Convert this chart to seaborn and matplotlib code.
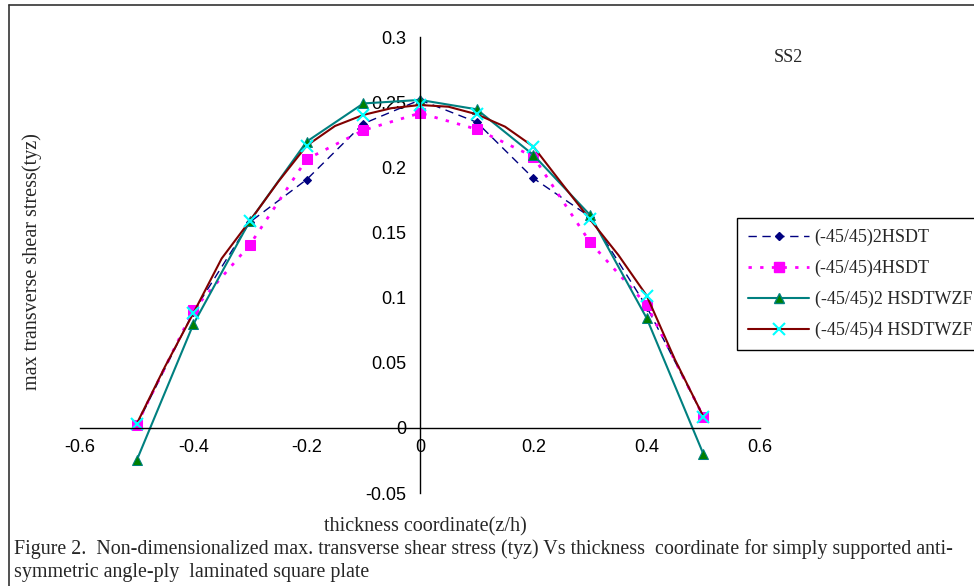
import matplotlib
matplotlib.use("Agg")
import matplotlib.pyplot as plt
from matplotlib.lines import Line2D
import seaborn as sns
import pandas as pd

# ---- data ----
z = [-0.5, -0.4, -0.3, -0.2, -0.1, 0.0, 0.1, 0.2, 0.3, 0.4, 0.5]
hsdt2 = [0.002, 0.089, 0.158, 0.1906, 0.2335, 0.2517, 0.2346, 0.1916, 0.162, 0.093, 0.0087]
hsdt4 = [0.0023, 0.0905, 0.1407, 0.2062, 0.2284, 0.2416, 0.2292, 0.2082, 0.1425, 0.0944, 0.0087]
wzf2 = [-0.0250, 0.0795, 0.159, 0.2197, 0.249, 0.2517, 0.2445, 0.2095, 0.1634, 0.0842, -0.0200]
z_dense = [-0.5, -0.45, -0.4, -0.35, -0.3, -0.25, -0.2, -0.15, -0.1, -0.05, 0.0,
           0.05, 0.1, 0.15, 0.2, 0.25, 0.3, 0.35, 0.4, 0.45, 0.5]
wzf4 = [0.003, 0.047, 0.088, 0.130, 0.159, 0.189, 0.2166, 0.2317, 0.2402, 0.2454, 0.2478,
        0.2465, 0.2407, 0.2312, 0.2159, 0.1877, 0.160, 0.1327, 0.1015, 0.0523, 0.0087]
labels = ["(-45/45)2HSDT", "(-45/45)4HSDT", "(-45/45)2 HSDTWZF", "(-45/45)4 HSDTWZF"]
x_ticks = [-0.6, -0.4, -0.2, 0, 0.2, 0.4, 0.6]
x_ticklabels = ["-0.6", "-0.4", "-0.2", "0", "0.2", "0.4", "0.6"]
y_ticks = [-0.05, 0, 0.05, 0.1, 0.15, 0.2, 0.25, 0.3]
y_ticklabels = ["-0.05", "0", "0.05", "0.1", "0.15", "0.2", "0.25", "0.3"]

sns.set_style("white")
plt.rcParams["font.family"] = ["Liberation Sans", "DejaVu Sans"]

W, H = 974, 586
fig = plt.figure(figsize=(W / 100, H / 100), dpi=100)
ax = fig.add_axes([80 / W, 1 - 493 / H, 680 / W, 456 / H])
ax.set_facecolor("none")

styles = [
    dict(color="#000080", linestyle=(0, (6, 4)), linewidth=1.0, marker="D",
         markersize=4.5, markerfacecolor="#000080", markeredgecolor="#000080"),
    dict(color="#FF00FF", linestyle=(0, (1.2, 3.0)), linewidth=2.0, marker="s",
         markersize=7, markerfacecolor="#FF00FF", markeredgecolor="#FF00FF"),
    dict(color="#008080", linestyle="-", linewidth=1.5, marker="^",
         markersize=7.5, markerfacecolor="#008000", markeredgecolor="#008080"),
    dict(color="#800000", linestyle="-", linewidth=1.5, marker="x",
         markersize=8, markeredgecolor="#00FFFF", markeredgewidth=1.5),
]

series = [(z, hsdt2), (z, hsdt4), (z, wzf2), (z_dense, wzf4)]
for i, ((xs, ys), st) in enumerate(zip(series, styles)):
    df = pd.DataFrame({"z": xs, "t": ys})
    kw = dict(st)
    if i == 3:
        kw["markevery"] = list(range(0, len(xs), 2))
    sns.lineplot(data=df, x="z", y="t", ax=ax, sort=False, estimator=None,
                 legend=False, **kw)

ax.set_xlim(-0.6, 0.6)
ax.set_ylim(-0.05, 0.3)
ax.spines["left"].set_position(("data", 0))
ax.spines["bottom"].set_position(("data", 0))
ax.spines["top"].set_visible(False)
ax.spines["right"].set_visible(False)
for s in ["left", "bottom"]:
    ax.spines[s].set_color("black")
    ax.spines[s].set_linewidth(1.0)
ax.set_xticks(x_ticks)
ax.set_xticklabels(x_ticklabels)
ax.set_yticks(y_ticks)
ax.set_yticklabels(y_ticklabels)
ax.tick_params(axis="x", direction="out", length=6, width=1, pad=2, labelsize=13, colors="black")
ax.tick_params(axis="y", direction="out", length=6, width=1, pad=4, labelsize=13, colors="black")
ax.set_xlabel("")
ax.set_ylabel("")
ax.grid(False)

serif = ["Liberation Serif", "DejaVu Serif"]
fig.text(32 / W, 1 - 262 / H, "max transverse shear stress(tyz)", rotation=90,
         ha="center", va="center", family=serif, fontsize=14.5)
fig.text(425 / W, 1 - 527 / H, "thickness coordinate(z/h)", ha="center", va="center",
         family=serif, fontsize=14.5)
fig.text(788 / W, 1 - 58 / H, "SS2", ha="center", va="center", family=serif, fontsize=13)
fig.text(14 / W, 1 - 549 / H,
         "Figure 2.  Non-dimensionalized max. transverse shear stress (tyz) Vs thickness  coordinate for simply supported anti-",
         ha="left", va="center", family=serif, fontsize=14.4)
fig.text(14 / W, 1 - 572 / H, "symmetric angle-ply  laminated square plate",
         ha="left", va="center", family=serif, fontsize=14.4)

# outer chart border (top and left visible)
fig.add_artist(Line2D([9 / W, 1.0], [1 - 5 / H, 1 - 5 / H], transform=fig.transFigure,
                      color="#333333", linewidth=1.2))
fig.add_artist(Line2D([9 / W, 9 / W], [0, 1 - 5 / H], transform=fig.transFigure,
                      color="#333333", linewidth=1.2))

handles = []
for st in styles:
    handles.append(Line2D([], [], **st))
leg = fig.legend(handles, labels, loc="upper left", bbox_to_anchor=(737 / W, 1 - 218 / H),
                 frameon=True, fancybox=False, edgecolor="black", framealpha=1,
                 prop={"family": serif, "size": 13}, handlelength=3.4,
                 handletextpad=0.3, labelspacing=0.76, borderpad=0.6, borderaxespad=0)
leg.get_frame().set_linewidth(1.0)

fig.savefig("out.png", dpi=100)
